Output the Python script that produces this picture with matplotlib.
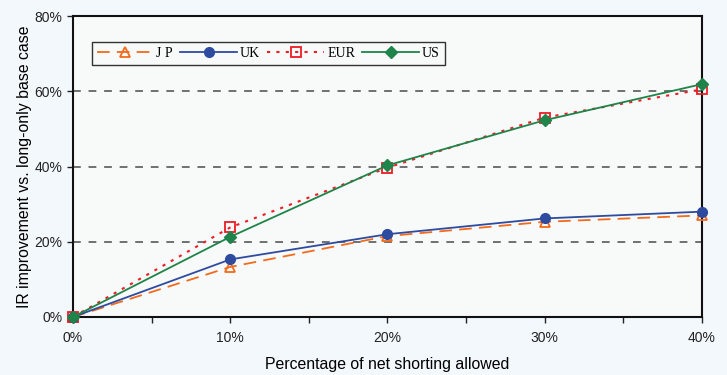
import matplotlib
matplotlib.use("Agg")
import matplotlib.pyplot as plt
from matplotlib.ticker import MultipleLocator, FuncFormatter

x_vals = [0, 10, 20, 30, 40]
jp = [0, 13.3, 21.5, 25.3, 27.0]
uk = [0, 15.3, 22.0, 26.2, 28.0]
eur = [0, 23.8, 39.7, 53.0, 60.5]
us = [0, 21.3, 40.3, 52.3, 61.9]
series_names = ["J P", "UK", "EUR", "US"]

bg = "#F3F8FD"
fig = plt.figure(figsize=(7.27, 3.75), dpi=100, facecolor=bg)
ax = fig.add_axes([0.1004, 0.1547, 0.8652, 0.8026])
ax.set_facecolor("#F8FAF9")

ax.set_xlim(0, 40)
ax.set_ylim(0, 80)

for y in [20, 40, 60, 80]:
    ax.axhline(y, color="#707070", lw=1.4, ls=(0, (4, 4)), zorder=1)

ax.plot(x_vals, jp, color="#F26A1B", lw=1.3, ls=(0, (7, 4)), marker="^", ms=7,
        mfc="none", mec="#F26A1B", mew=1.3, label=series_names[0], clip_on=False, zorder=3)
ax.plot(x_vals, uk, color="#2E4BA0", lw=1.3, marker="o", ms=7,
        mfc="#2E4BA0", mec="#2E4BA0", label=series_names[1], clip_on=False, zorder=4)
ax.plot(x_vals, eur, color="#EE1C25", lw=1.5, ls=(0, (1.5, 3)), marker="s", ms=6.5,
        mfc="none", mec="#EE1C25", mew=1.3, label=series_names[2], clip_on=False, zorder=3)
ax.plot(x_vals, us, color="#1E8449", lw=1.3, marker="D", ms=6,
        mfc="#1E8449", mec="#1E8449", label=series_names[3], clip_on=False, zorder=5)

pct = FuncFormatter(lambda v, p: f"{v:.0f}%")
ax.xaxis.set_major_locator(MultipleLocator(10))
ax.xaxis.set_minor_locator(MultipleLocator(5))
ax.yaxis.set_major_locator(MultipleLocator(20))
ax.xaxis.set_major_formatter(pct)
ax.yaxis.set_major_formatter(pct)
ax.tick_params(axis="both", which="both", direction="out", length=4, width=1,
               color="#222222", labelsize=10, labelcolor="#222222")
ax.tick_params(axis="x", pad=6)
for s in ax.spines.values():
    s.set_color("#111111")
    s.set_linewidth(1.5)

ax.set_xlabel("Percentage of net shorting allowed", fontsize=11.4, labelpad=9,
              family="Liberation Sans")
ax.set_ylabel("IR improvement vs. long-only base case", fontsize=11.4, labelpad=2,
              family="Liberation Sans")
for lab in ax.get_xticklabels() + ax.get_yticklabels():
    lab.set_family("Liberation Sans")

leg = ax.legend(loc="lower left", bbox_to_anchor=(0.030, 0.837, 0.561, 0.083),
                mode="expand", ncol=4, frameon=True, fancybox=False,
                prop={"family": "Liberation Serif", "size": 10},
                handlelength=4.1, handletextpad=0.2, columnspacing=0.6,
                borderpad=0.35, borderaxespad=0)
leg.get_frame().set_edgecolor("#000000")
leg.get_frame().set_linewidth(1.0)
leg.get_frame().set_facecolor("#F8FAF9")

fig.savefig("out.png", dpi=100, facecolor=bg)
